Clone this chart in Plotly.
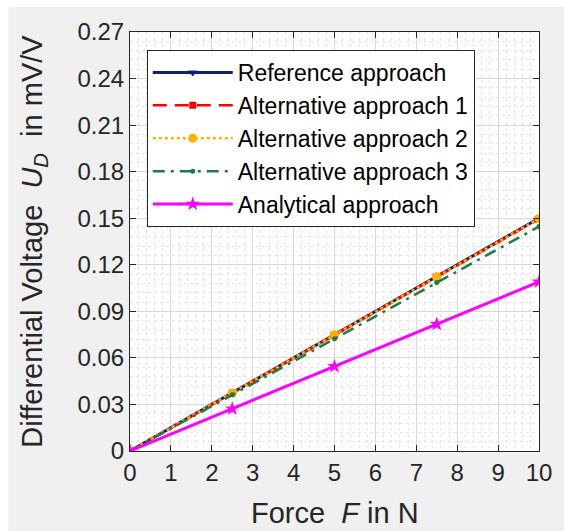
import plotly.graph_objects as go

force = [0, 2.5, 5, 7.5, 10]
reference = [0, 0.0375, 0.0750, 0.1125, 0.1500]
alt1 = [0, 0.0374, 0.0748, 0.1121, 0.1495]
alt2 = [0, 0.0374, 0.0749, 0.1123, 0.1497]
alt3 = [0, 0.0362, 0.0723, 0.1085, 0.1446]
analytical = [0, 0.0272, 0.0545, 0.0817, 0.1090]

x_ticks = list(range(0, 11))
y_ticks = [0, 0.03, 0.06, 0.09, 0.12, 0.15, 0.18, 0.21, 0.24, 0.27]
y_tick_labels = ["0", "0.03", "0.06", "0.09", "0.12", "0.15", "0.18", "0.21", "0.24", "0.27"]

FONT = "Liberation Sans, Arial, sans-serif"
AX = "#262626"

series = [
    ("Reference approach", reference, "#14206e", "solid", "triangle-down", 8, 3),
    ("Alternative approach 1", alt1, "#ff0000", "14px,8px", "square", 7, 2.5),
    ("Alternative approach 2", alt2, "#ffb000", "dot", "circle", 9, 2.5),
    ("Alternative approach 3", alt3, "#1e7b45", "12px,6px,3px,6px", "circle", 5, 2.5),
    ("Analytical approach", analytical, "#ff00ff", "solid", "star", 11, 3),
]

fig = go.Figure()
for i, (name, ys, col, dash, sym, msize, lw) in enumerate(series):
    fig.add_trace(go.Scatter(
        x=force, y=ys, name=name, mode="lines+markers",
        line=dict(color=col, width=lw, dash=dash),
        marker=dict(color=col, symbol=sym, size=msize, line=dict(width=0)),
    ))

axis_common = dict(
    showline=True, linecolor=AX, linewidth=1.2, mirror="allticks",
    ticks="inside", ticklen=6, tickcolor=AX, tickwidth=1.2,
    showgrid=True, gridcolor="#d8d8d8", gridwidth=1,
    zeroline=False,
    tickfont=dict(family=FONT, size=24, color=AX),
)

fig.update_xaxes(
    range=[0, 10], tickvals=x_ticks, ticktext=[str(v) for v in x_ticks],
    minor=dict(dtick=0.2, showgrid=True, gridcolor="#e6e6e6", griddash="dot", gridwidth=1, ticks=""),
    **axis_common,
)
fig.update_yaxes(
    range=[0, 0.27], tickvals=y_ticks, ticktext=y_tick_labels,
    minor=dict(dtick=0.006, showgrid=True, gridcolor="#e6e6e6", griddash="dot", gridwidth=1, ticks=""),
    title=dict(text="Differential Voltage  <i>U<sub>D</sub></i>  in mV/V", font=dict(family=FONT, size=29, color=AX), standoff=26),
    **axis_common,
)

fig.add_annotation(
    text="Force  <i>F</i> in N", xref="paper", yref="paper", x=0.5, y=-62 / 419,
    xanchor="center", yanchor="middle", showarrow=False,
    font=dict(family=FONT, size=29, color=AX),
)

fig.update_layout(
    width=564, height=531,
    margin=dict(l=130, r=21, t=32, b=80),
    paper_bgcolor="#f0f0f0", plot_bgcolor="#ffffff",
    font=dict(family=FONT, color=AX),
    showlegend=True,
    legend=dict(
        x=0.041, y=0.957, xanchor="left", yanchor="top",
        bgcolor="#ffffff", bordercolor="#262626", borderwidth=1,
        font=dict(family=FONT, size=23, color="#000000"),
        traceorder="normal", itemwidth=80,
    ),
    shapes=[
        dict(type="rect", xref="paper", yref="paper", x0=-0.4, x1=1.2,
             y0=1 + 25 / 419, y1=1.2,
             fillcolor="#ffffff", line=dict(width=0), layer="below"),
        dict(type="rect", xref="paper", yref="paper", x0=-0.4, x1=-123 / 413,
             y0=-0.4, y1=1.2,
             fillcolor="#ffffff", line=dict(width=0), layer="below"),
    ],
)

fig.write_html("out.html")
